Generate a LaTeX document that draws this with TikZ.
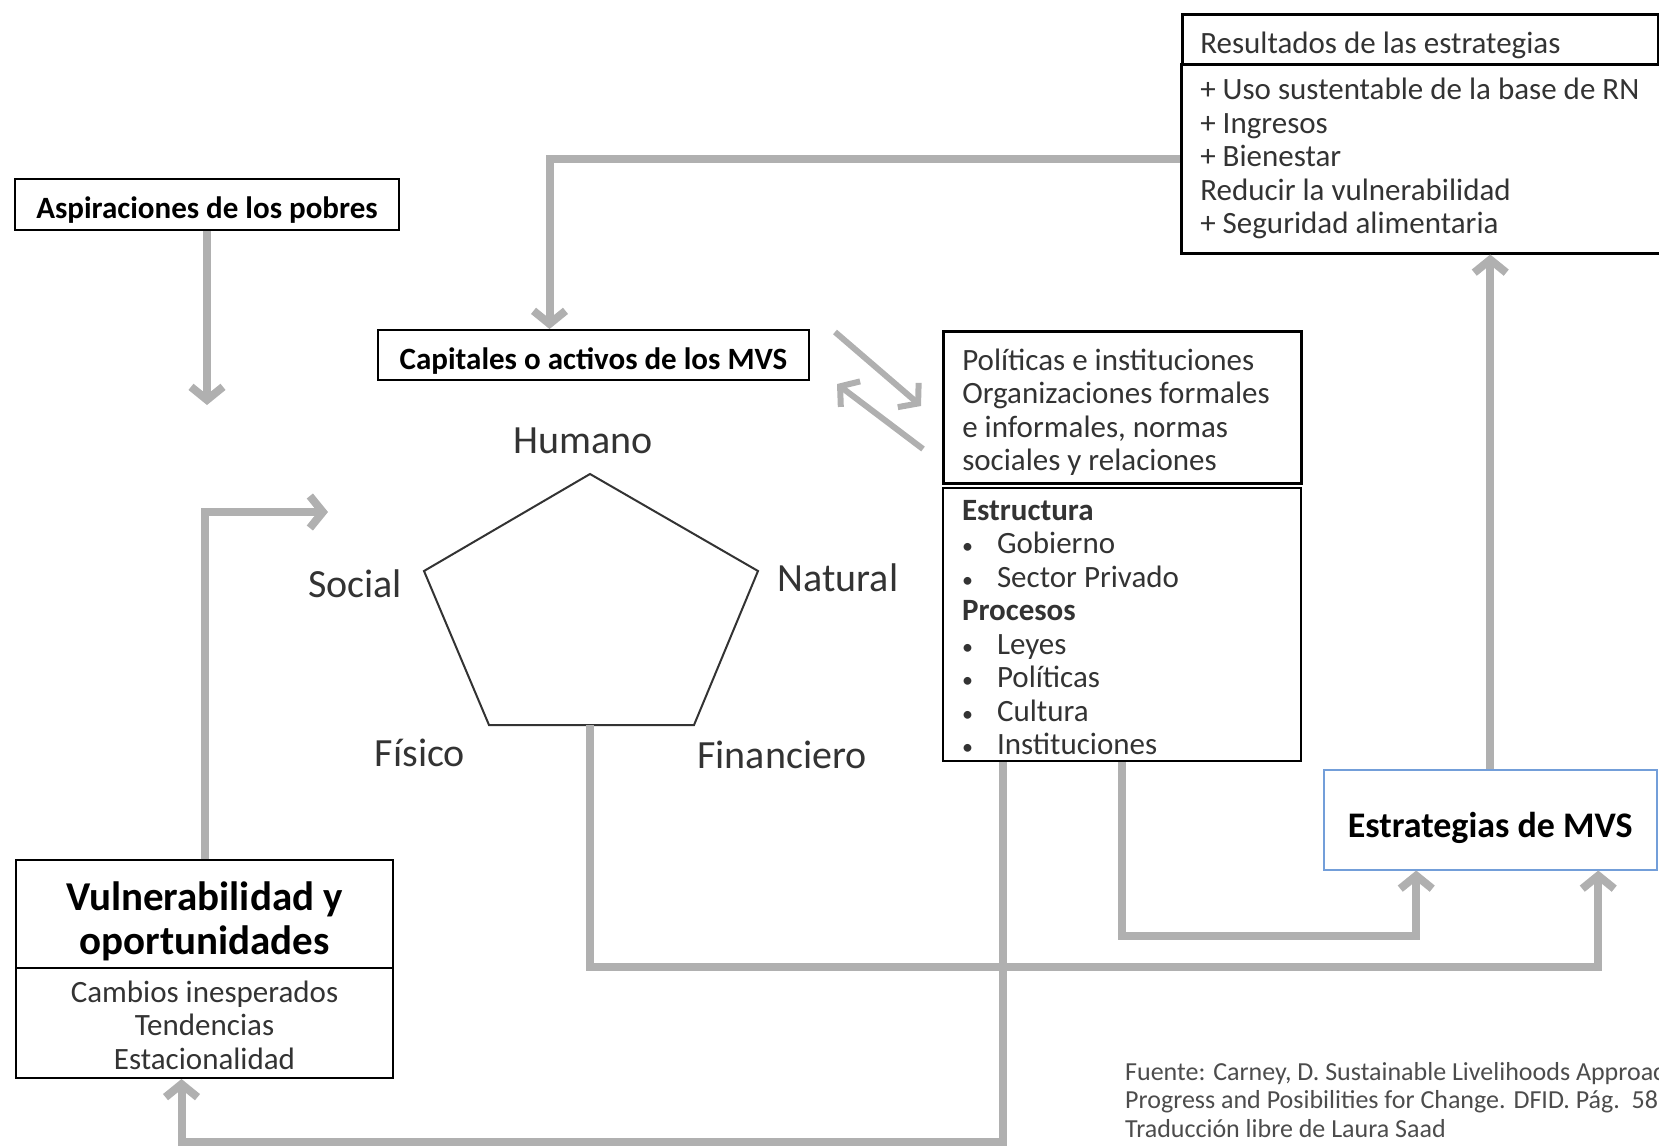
\documentclass[tikz,border=0pt]{standalone}
\usepackage{fontspec}
\setmainfont{Carlito}
\usepackage{tikz}
\usetikzlibrary{arrows.meta}
\definecolor{linkgray}{rgb}{0.69, 0.69, 0.69}
\definecolor{textgray}{rgb}{0.2, 0.2, 0.2}
\definecolor{notegray}{rgb}{0.3, 0.3, 0.3}
\definecolor{boxblue}{rgb}{0.45, 0.62, 0.85}
\newcommand{\bodyfont}{\fontsize{31}{33.5}\selectfont}
\newcommand{\itm}{\makebox[35pt][l]{\fontsize{22}{22}\selectfont\textbullet}}
\newcommand{\lift}[1]{\rule{0pt}{#1}}
\tikzset{
  box/.style = {draw, line width = 2.5pt, inner ysep = 0pt},
  oneline/.style = {text height = 28pt, text depth = 0pt},
  link/.style = {draw = linkgray, line width = 8pt, -{Straight Barb[length = 13pt, width = 32pt]}},
  lbl/.style = {font = \fontsize{40}{44}\selectfont, text = textgray},
}

\begin{document}
\begin{tikzpicture}[x = 1pt, y = -1pt]
\useasboundingbox (0, 0) rectangle (1659, 1146);
\clip (0, 0) rectangle (1659, 1146);

\node [box, oneline, anchor = north west, minimum height = 50pt, inner xsep = 18pt, text width = 440pt, align = flush left, font = \bodyfont, text = textgray] (resHead) at (1181, 13) {Resultados de las estrategias};
\node [box, anchor = north west, minimum height = 189pt, inner xsep = 19pt, text width = 470pt, align = flush left, font = \bodyfont, text = textgray] (resList) at (1180, 63) {+ Uso sustentable de la base de RN\\ + Ingresos\\ + Bienestar\\ Reducir la vulnerabilidad\\ + Seguridad alimentaria};

\node [box, oneline, line width = 2pt, minimum width = 384pt, minimum height = 51pt, font = \bfseries\bodyfont] (asp) at (207, 204.5) {Aspiraciones de los pobres};
\node [box, oneline, line width = 2pt, minimum width = 431pt, minimum height = 50pt, font = \bfseries\bodyfont] (cap) at (593.5, 355) {Capitales o activos de los MVS};

\node [box, anchor = north west, minimum height = 152pt, inner xsep = 19pt, text width = 320pt, align = flush left, font = \bodyfont, text = textgray] (polTop) at (942, 330) {\lift{31pt}Políticas e instituciones\\ Organizaciones formales\\ e informales, normas\\ sociales y relaciones};
\node [box, line width = 2pt, anchor = north west, minimum height = 273pt, inner xsep = 19pt, text width = 320pt, align = flush left, font = \bodyfont, text = textgray] (polBot) at (942, 487) {\lift{26pt}\textbf{Estructura}\\ \itm Gobierno\\ \itm Sector Privado\\ \textbf{Procesos}\\ \itm Leyes\\ \itm Políticas\\ \itm Cultura\\ \itm Instituciones};

\node [box, draw = boxblue, line width = 1.5pt, text height = 35pt, text depth = 0pt, anchor = north west, minimum width = 333pt, minimum height = 100pt, font = \bfseries\fontsize{36}{40}\selectfont] (estr) at (1323, 769) {Estrategias de MVS};

\node [box, line width = 2pt, anchor = north west, minimum width = 377pt, minimum height = 108pt, align = center, font = \bfseries\fontsize{41}{44}\selectfont] (vulTop) at (15, 859) {\lift{43pt}Vulnerabilidad y\\ oportunidades};
\node [box, line width = 2pt, anchor = north west, minimum width = 377pt, minimum height = 110pt, align = center, font = \bodyfont, text = textgray] (vulBot) at (15, 967) {\lift{26pt}Cambios inesperados\\ Tendencias\\ Estacionalidad};

\coordinate (pTop) at (590, 474);
\coordinate (pRight) at (758, 571);
\coordinate (pBR) at (694, 725);
\coordinate (pBL) at (489, 725);
\coordinate (pLeft) at (424, 571);
\coordinate (pBot) at (590, 725);
\draw [line width = 2pt, textgray] (pTop) -- (pRight) -- (pBR) -- (pBL) -- (pLeft) -- cycle;
\node [lbl] (humano) at (583, 441) {Humano};
\node [lbl] (social) at (355, 584) {Social};
\node [lbl] (natural) at (838, 578) {Natural};
\node [lbl] (fisico) at (420, 753) {Físico};
\node [lbl] (financiero) at (782, 755) {Financiero};

\node [anchor = north west, inner sep = 0pt, align = left, font = \fontsize{26}{28.5}\selectfont, text = notegray] (fuente) at (1125, 1062) {Fuente: Carney, D. Sustainable Livelihoods Approaches:\\ Progress and Posibilities for Change. DFID. Pág.\ \ 58.\\ Traducción libre de Laura Saad};

\coordinate (aspEnd) at (207, 405);
\coordinate (vulEnd) at (328, 512);
\coordinate (capOut) at (835, 332);
\coordinate (polIn) at (921, 406);
\coordinate (polOut) at (923, 449);
\coordinate (capIn) at (837, 384);

\draw [link] (asp.south) -- (aspEnd);
\draw [link] (resList.west) -| ([xshift = -44pt] cap.north);
\draw [link] (vulTop.north) |- (vulEnd);
\draw [link] (pBot) -- ++(0, 242) -| ([xshift = 108pt] estr.south);
\draw [link] (polBot.south) -- ++(0, 174) -| ([xshift = -74pt] estr.south);
\draw [link] ([xshift = -119pt] polBot.south) -- ++(0, 380) -| ([xshift = -23pt] vulBot.south);
\draw [link] (estr.north) -- (estr.north |- resList.south);
\draw [link, line width = 6pt] (capOut) -- (polIn);
\draw [link, line width = 6pt] (polOut) -- (capIn);

\end{tikzpicture}
\end{document}
